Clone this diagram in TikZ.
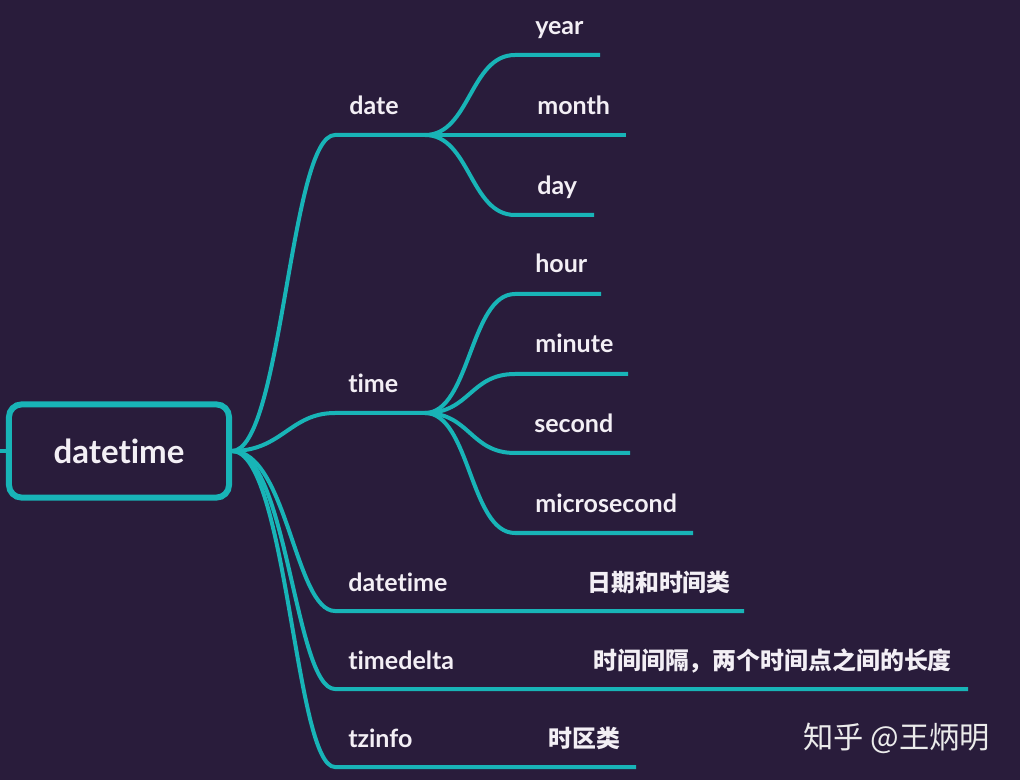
\documentclass[tikz,border=0pt]{standalone}
\usepackage{fontspec}
\setmainfont{Lato}[Ligatures={NoCommon}]
\newfontfamily\cjk{Noto Sans CJK SC}
\usepackage{tikz}
\usepackage{xcolor}
\definecolor{mapbg}{HTML}{291C3B}
\definecolor{mapteal}{HTML}{18B4B7}
\definecolor{maptext}{HTML}{F3EFF5}

\begin{document}
\begin{tikzpicture}[x=0.025cm, y=-0.025cm,
    branch/.style={draw=mapteal, line width=1mm},
    rootbox/.style={rectangle, rounded corners=9pt, draw=mapteal, line width=1.5mm,
        minimum width=5.5cm, minimum height=2.33cm, text=maptext,
        font=\fontsize{23.5}{28}\selectfont\bfseries},
    lbl/.style={anchor=base west, inner sep=0, text=maptext,
        font=\fontsize{17.8}{21}\selectfont\bfseries},
    note/.style={anchor=base west, inner sep=0, text=maptext,
        font=\cjk\fontsize{17}{20}\selectfont\bfseries}
]
% Background
\useasboundingbox (0,0) rectangle (1020,780);
\fill[mapbg] (0,0) rectangle (1020,780);

% Root
\node[rootbox] (root) at (119,451) {datetime};
\coordinate (stub) at (0,451);
\draw[branch] (stub) -- (root.west);

% Branch lines
\coordinate (dateA) at (335,135);  \coordinate (dateB) at (425,135);
\coordinate (timeA) at (335,413);  \coordinate (timeB) at (425,413);
\coordinate (dtA) at (335,611);    \coordinate (dtB) at (744,611);
\coordinate (tdA) at (335,689);    \coordinate (tdB) at (968,689);
\coordinate (tzA) at (335,767);    \coordinate (tzB) at (636,767);

\coordinate (yearA) at (515,55);   \coordinate (yearB) at (600,55);
\coordinate (monthB) at (626,135);
\coordinate (dayA) at (515,215);   \coordinate (dayB) at (594,215);
\coordinate (hourA) at (515,294);  \coordinate (hourB) at (601,294);
\coordinate (minA) at (515,374);   \coordinate (minB) at (628,374);
\coordinate (secA) at (515,453);   \coordinate (secB) at (630,453);
\coordinate (microA) at (515,533); \coordinate (microB) at (693,533);

\draw[branch] (root.east) .. controls +(50,0) and +(-45,0) .. (dateA) -- (dateB);
\draw[branch] (root.east) .. controls +(50,0) and +(-45,0) .. (timeA) -- (timeB);
\draw[branch] (root.east) .. controls +(55,0) and +(-40,0) .. (dtA) -- (dtB);
\draw[branch] (root.east) .. controls +(55,0) and +(-40,0) .. (tdA) -- (tdB);
\draw[branch] (root.east) .. controls +(55,0) and +(-40,0) .. (tzA) -- (tzB);

\draw[branch] (dateB) .. controls +(45,0) and +(-45,0) .. (yearA) -- (yearB);
\draw[branch] (dateB) -- (monthB);
\draw[branch] (dateB) .. controls +(45,0) and +(-45,0) .. (dayA) -- (dayB);
\draw[branch] (timeB) .. controls +(45,0) and +(-45,0) .. (hourA) -- (hourB);
\draw[branch] (timeB) .. controls +(45,0) and +(-45,0) .. (minA) -- (minB);
\draw[branch] (timeB) .. controls +(45,0) and +(-45,0) .. (secA) -- (secB);
\draw[branch] (timeB) .. controls +(45,0) and +(-45,0) .. (microA) -- (microB);

% Labels
\node[lbl] (date) at (349,115) {date};
\node[lbl] (year) at (535,35) {year};
\node[lbl] (month) at (537,115) {month};
\node[lbl] (day) at (537,195) {day};
\node[lbl] (time) at (348,393) {time};
\node[lbl] (hour) at (535,273) {hour};
\node[lbl] (minute) at (535,353) {minute};
\node[lbl] (second) at (534,433) {second};
\node[lbl] (micro) at (535,513) {microsecond};
\node[lbl] (dt) at (348,591) {datetime};
\node[lbl] (td) at (348,669) {timedelta};
\node[lbl] (tz) at (348,747) {tzinfo};

\node[note] (dtnote) at (587,591) {日期和时间类};
\node[note] (tdnote) at (593,669) {时间间隔，两个时间点之间的长度};
\node[note] (tznote) at (548,747) {时区类};

\node[anchor=base west, inner sep=0, text=white!92!black,
    font=\cjk\fontsize{21.5}{25}\selectfont] (mark) at (803,748) {知乎 @王炳明};
\end{tikzpicture}
\end{document}
